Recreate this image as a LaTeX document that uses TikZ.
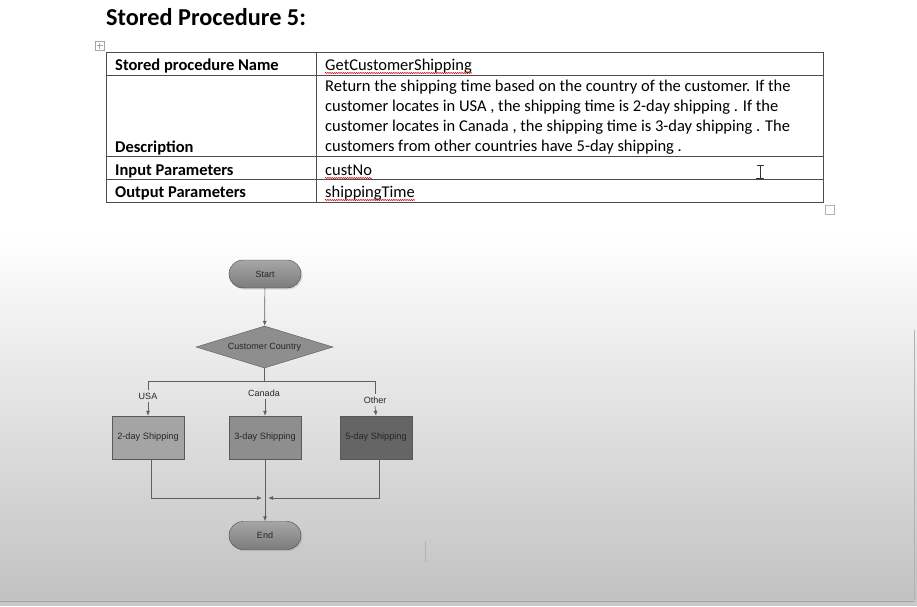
\documentclass[tikz,border=0pt]{standalone}
\usepackage{fontspec}
\newfontfamily\calibri{Carlito}
\newfontfamily\arialf{Liberation Sans}
\usetikzlibrary{arrows.meta,shapes.geometric,shadows,decorations.pathmorphing}
\definecolor{lineg}{HTML}{606060}
\definecolor{boxA}{HTML}{A4A4A4}
\definecolor{boxB}{HTML}{8E8E8E}
\definecolor{boxC}{HTML}{656565}
\definecolor{termT}{HTML}{A6A6A6}
\definecolor{termB}{HTML}{7C7C7C}
\begin{document}
\begin{tikzpicture}[x=1pt,y=-1pt,
  tline/.style={draw=black!70,line width=0.8pt},
  lab/.style={font=\calibri\fontsize{16.5}{20}\selectfont\bfseries,anchor=base west,inner sep=0pt},
  val/.style={font=\calibri\fontsize{16.5}{20}\selectfont,anchor=base west,inner sep=0pt},
  squig/.style={draw=red!80!black,line width=0.5pt,decorate,decoration={snake,segment length=2.2pt,amplitude=0.6pt}},
  term/.style={draw=gray!55!black,rounded corners=14pt,minimum width=72pt,minimum height=28pt,top color=termT,bottom color=termB,drop shadow={opacity=0.25,shadow xshift=1.5pt,shadow yshift=-1.5pt},font=\arialf\fontsize{9}{10}\selectfont,text=black!85,inner sep=0pt},
  proc/.style={draw=gray!70!black,minimum width=72pt,minimum height=43pt,font=\arialf\fontsize{9.2}{10}\selectfont,text=black!85,inner sep=0pt},
  dec/.style={diamond,aspect=3.2,draw=gray!70!black,fill=boxB,minimum width=137pt,minimum height=42pt,inner sep=0pt,font=\arialf\fontsize{9}{10}\selectfont,text=black!85},
  flow/.style={draw=lineg,line width=0.7pt},
  arr/.style={flow,-{Latex[length=5pt,width=4pt]}},
  elab/.style={font=\arialf\fontsize{9}{10}\selectfont,text=black!85,inner sep=2.5pt}
]
\useasboundingbox (0,0) rectangle (917,606);
% background
\fill[white] (0,0) rectangle (917,606);
\shade[top color=white,bottom color=gray!48] (0,235) rectangle (917,600);
\fill[gray!42] (0,600) rectangle (917,606);
\draw[gray!75,line width=0.8pt] (0,601) -- (914,601);
\draw[gray!60,line width=0.6pt] (914,330) -- (914,601);

% title
\node[font=\calibri\fontsize{24.3}{28}\selectfont\bfseries,anchor=base west,inner sep=0pt] (title) at (106,25) {Stored Procedure 5:};

% table move handle
\draw[gray!70,line width=0.5pt,fill=white] (95,41) rectangle (104,50);
\draw[gray!70,line width=0.4pt] (99.5,42.5) -- (99.5,48.5) (96.5,45.5) -- (102.5,45.5);
% resize handle
\draw[gray!60,line width=0.6pt,fill=white] (825,205) rectangle (834,214);

% table
\draw[tline] (106,52) rectangle (823,202);
\draw[tline] (106,75) -- (823,75);
\draw[tline] (106,156) -- (823,156);
\draw[tline] (106,179) -- (823,179);
\draw[tline] (316,52) -- (316,202);

\node[lab] (l1) at (115,70) {Stored procedure Name};
\node[lab] (l2) at (115,152) {Description};
\node[lab] (l3) at (115,175) {Input Parameters};
\node[lab] (l4) at (115,197) {Output Parameters};

\node[val] (v1) at (325,70) {GetCustomerShipping};
\node[val] (d1) at (325,91) {Return the shipping time based on the country of the customer. If the};
\node[val] (d2) at (325,111) {customer locates in USA , the shipping time is 2-day shipping . If the};
\node[val] (d3) at (325,131) {customer locates in Canada , the shipping time is 3-day shipping . The};
\node[val] (d4) at (325,151) {customers from other countries have 5-day shipping .};
\node[val] (v3) at (325,175) {custNo};
\node[val] (v4) at (325,197) {shippingTime};

\draw[squig] ([yshift=-3pt]v1.base west) -- ([yshift=-3pt]v1.base east);
\draw[squig] ([yshift=-3pt]v3.base west) -- ([yshift=-3pt]v3.base east);
\draw[squig] ([yshift=-3pt]v4.base west) -- ([yshift=-3pt]v4.base east);

% I-beam cursor
\draw[black!80,line width=1pt] (760,165) -- (760,178.5);
\draw[black!80,line width=0.9pt] (756.5,165) -- (763.5,165) (756,178.5) -- (764,178.5);

% text cursor
\draw[gray!60,line width=1pt] (425,541) -- (425,562);

% flowchart
\node[term] (start) at (265,274) {Start};
\node[dec] (cc) at (264.5,347) {Customer Country};
\node[proc,fill=boxA] (p2) at (148,437.5) {2-day Shipping};
\node[proc,fill=boxB] (p3) at (265,437.5) {3-day Shipping};
\node[proc,fill=boxC] (p5) at (376,437.5) {5-day Shipping};
\node[term] (end) at (265,535.5) {End};

\coordinate (split) at (264.5,381);
\coordinate (sl) at (148,381);
\coordinate (sr) at (375,381);
\coordinate (m) at (265,498);

\node[elab] (lusa) at (148,396) {USA};
\node[elab] (lcan) at (264,393) {Canada};
\node[elab] (loth) at (375,400) {Other};

\draw[arr] (start) -- (cc);
\draw[flow] (cc.south) -- (split);
\draw[flow] (sl) -- (sr);
\draw[flow] (sl) -- (lusa.north);
\draw[arr] (lusa.south) -- (p2.north);
\draw[arr] (lcan.south -| p3.north) -- (p3.north);
\draw[flow] (sr) -- (loth.north);
\draw[arr] (loth.south) -- (p5.north);

\draw[arr] ([xshift=3pt]p2.south) |- ([xshift=-3pt]m);
\draw[arr] ([xshift=3pt]p5.south) |- ([xshift=3pt]m);
\draw[arr] (p3.south) -- (end.north);
\end{tikzpicture}
\end{document}
